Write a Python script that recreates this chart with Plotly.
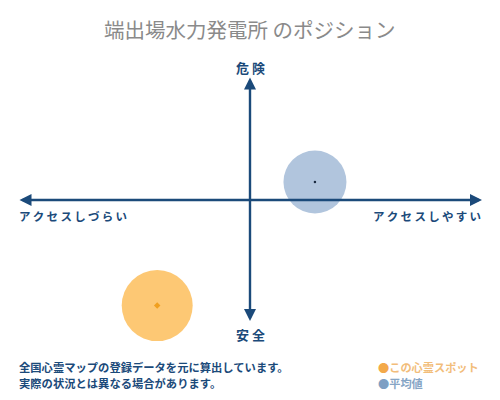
import plotly.graph_objects as go

# ---- data ----
series_names = ["この心霊スポット", "平均値"]
access_values = [-4.0, 2.8]      # x: アクセスしづらい(-) ... アクセスしやすい(+)
danger_values = [-8.8, 1.5]      # y: 安全(-) ... 危険(+)
axis_labels = {"left": "アクセスしづらい", "right": "アクセスしやすい", "top": "危険", "bottom": "安全"}
title_text = "端出場水力発電所 のポジション"
note_lines = ["全国心霊マップの登録データを元に算出しています。", "実際の状況とは異なる場合があります。"]

# ---- styles ----
NAVY = "#1b4a7a"
FONT = "Noto Sans CJK JP"
fill_colors = ["#fdc874", "#b1c5dd"]
dot_colors = ["#f0a020", "#1a2a40"]
bubble_sizes = [71, 63]
dot_sizes = [5, 2.5]
dot_symbols = ["diamond", "circle"]
legend_colors = ["#f3a94a", "#7d9fc3"]
legend_text_colors = ["#f2bd7a", "#86a5c5"]

def spaced(s, sep="\u2009"):
    return sep.join(list(s))

fig = go.Figure()

# bubbles
for i in range(len(series_names)):
    fig.add_trace(go.Scatter(
        x=[access_values[i]], y=[danger_values[i]], mode="markers",
        marker=dict(size=bubble_sizes[i], color=fill_colors[i], line=dict(width=0)),
        hoverinfo="skip", showlegend=False))
for i in range(len(series_names)):
    fig.add_trace(go.Scatter(
        x=[access_values[i]], y=[danger_values[i]], mode="markers",
        marker=dict(size=dot_sizes[i], color=dot_colors[i], symbol=dot_symbols[i], line=dict(width=0)),
        name=series_names[i], hoverinfo="x+y", showlegend=False))

XR = 250 / 23.2
YR = 200 / 12.0
LIM = 10.0
VLIM = 10.2

arrow_common = dict(xref="x", yref="y", axref="x", ayref="y", showarrow=True,
                    arrowcolor=NAVY, arrowwidth=2.4, arrowhead=2, arrowsize=1,
                    startarrowhead=2, startarrowsize=1, standoff=0, startstandoff=0, text="")
annotations = [
    dict(x=LIM, y=0, ax=-LIM, ay=0, arrowside="end+start", **arrow_common),
    dict(x=0, y=VLIM, ax=0, ay=-VLIM, arrowside="end+start", **arrow_common),
]

annotations += [
    dict(text="<b>" + spaced(axis_labels["top"], " ") + "</b>", x=0.5, y=67, xref="paper", yref="paper",
         showarrow=False, font=dict(family=FONT, size=13, color=NAVY), xanchor="center", yanchor="middle"),
    dict(text="<b>" + spaced(axis_labels["bottom"], " ") + "</b>", x=0.5, y=334, xref="paper", yref="paper",
         showarrow=False, font=dict(family=FONT, size=13, color=NAVY), xanchor="center", yanchor="middle"),
    dict(text="<b>" + spaced(axis_labels["left"]) + "</b>", x=17 / 500, y=216, xref="paper", yref="paper",
         showarrow=False, font=dict(family=FONT, size=11.5, color=NAVY), xanchor="left", yanchor="middle"),
    dict(text="<b>" + spaced(axis_labels["right"]) + "</b>", x=483 / 500, y=216, xref="paper", yref="paper",
         showarrow=False, font=dict(family=FONT, size=11.5, color=NAVY), xanchor="right", yanchor="middle"),
    dict(text=title_text, x=0.5, y=29, xref="paper", yref="paper", showarrow=False,
         font=dict(family=FONT, size=20.5, color="#8a8a8a"), xanchor="center", yanchor="middle"),
]
for k, line in enumerate(note_lines):
    annotations.append(dict(text="<b>" + line + "</b>", x=17 / 500, y=367 + 16 * k, xref="paper", yref="paper",
                            showarrow=False, font=dict(family=FONT, size=11.3, color=NAVY),
                            xanchor="left", yanchor="middle"))
for k, name in enumerate(series_names):
    annotations.append(dict(
        text=f'<span style="color:{legend_colors[k]}">●</span><b><span style="color:{legend_text_colors[k]}">{name}</span></b>',
        x=376 / 500, y=367 + 16 * k, xref="paper", yref="paper", showarrow=False,
        font=dict(family=FONT, size=11.2), xanchor="left", yanchor="middle"))

# convert pixel-y of paper annotations to paper fraction
for a in annotations:
    if a.get("yref") == "paper":
        a["y"] = 1 - a["y"] / 400

fig.update_layout(
    width=500, height=400,
    margin=dict(l=0, r=0, t=0, b=0),
    paper_bgcolor="white", plot_bgcolor="white",
    xaxis=dict(range=[-XR, XR], visible=False, fixedrange=True),
    yaxis=dict(range=[-YR, YR], visible=False, fixedrange=True),
    annotations=annotations,
    showlegend=False,
)

fig.write_html("out.html", config={"displayModeBar": False},
               post_script="document.body.style.margin='0px';document.body.style.overflow='hidden';")
